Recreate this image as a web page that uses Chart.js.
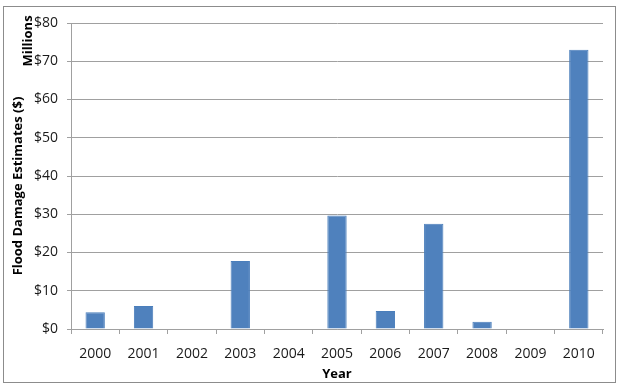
<!DOCTYPE html>
<html>
<head>
<meta charset="utf-8">
<script src="https://cdn.jsdelivr.net/npm/chart.js@4/dist/chart.umd.min.js"></script>
<style>
  html, body { margin: 0; padding: 0; background: #fff; }
  #wrap { width: 619px; height: 390px; position: relative; }
</style>
</head>
<body>
<div id="wrap"><canvas id="floodChart"></canvas></div>
<script>
// ================================
// DATA
// ================================
const years = ["2000", "2001", "2002", "2003", "2004", "2005", "2006", "2007", "2008", "2009", "2010"];
const damageMillions = [4.4, 6.0, 0, 17.8, 0, 29.7, 4.7, 27.5, 1.9, 0, 73.0];
const yTicks = [0, 10, 20, 30, 40, 50, 60, 70, 80];

const FONT = "'Open Sans', 'Liberation Sans', sans-serif";
const GRID = "#a0a0a0";
const TEXT = "#1a1a1a";

// ================================
// TITLES + OUTER BORDER
// ================================
const decorPlugin = {
    id: "decor",
    afterDraw(chart) {
        const ctx = chart.ctx;
        ctx.save();

        // outer frame
        ctx.strokeStyle = "#8c8c8c";
        ctx.lineWidth = 1;
        ctx.strokeRect(3.5, 6.5, 612, 376);

        ctx.fillStyle = "#000";
        ctx.font = "bold 13px " + FONT;
        ctx.textAlign = "center";
        ctx.textBaseline = "alphabetic";

        // x title
        ctx.fillText("Year", 337, 378);

        // y title
        ctx.save();
        ctx.translate(22, 186);
        ctx.rotate(-Math.PI / 2);
        ctx.fillText("Flood Damage Estimates ($)", 0, 0);
        ctx.restore();

        // unit label
        ctx.save();
        ctx.translate(32, 41);
        ctx.rotate(-Math.PI / 2);
        ctx.fillText("Millions", 0, 0);
        ctx.restore();

        ctx.restore();
    }
};

// ================================
// CREATE CHART
// ================================
new Chart(document.getElementById("floodChart"), {
    type: "bar",
    data: {
        labels: years,
        datasets: [{
            label: "Flood Damage",
            data: damageMillions,
            backgroundColor: "#4f81bd",
            borderColor: "#4a7ebb",
            borderWidth: 1,
            categoryPercentage: 1.0,
            barPercentage: 0.4
        }]
    },
    options: {
        responsive: true,
        maintainAspectRatio: false,
        animation: false,
        layout: { padding: { top: 23, right: 16, bottom: 0, left: 0 } },
        plugins: {
            legend: { display: false },
            tooltip: { enabled: false }
        },
        scales: {
            x: {
                grid: {
                    offset: true,
                    drawOnChartArea: false,
                    drawTicks: true,
                    tickLength: 5,
                    color: GRID
                },
                border: { display: true, color: GRID },
                ticks: {
                    color: TEXT,
                    font: { family: FONT, size: 14 },
                    padding: 12,
                    maxRotation: 0,
                    autoSkip: false
                },
                afterFit(scale) { scale.height = 61; }
            },
            y: {
                min: 0,
                max: 80,
                afterBuildTicks(scale) {
                    scale.ticks = yTicks.map(v => ({ value: v }));
                },
                grid: {
                    color: GRID,
                    drawTicks: true,
                    tickLength: 4
                },
                border: { display: true, color: GRID },
                ticks: {
                    color: TEXT,
                    font: { family: FONT, size: 14 },
                    padding: 9,
                    callback: v => "$" + v
                },
                afterFit(scale) { scale.width = 71; }
            }
        }
    },
    plugins: [decorPlugin]
});
</script>
</body>
</html>
